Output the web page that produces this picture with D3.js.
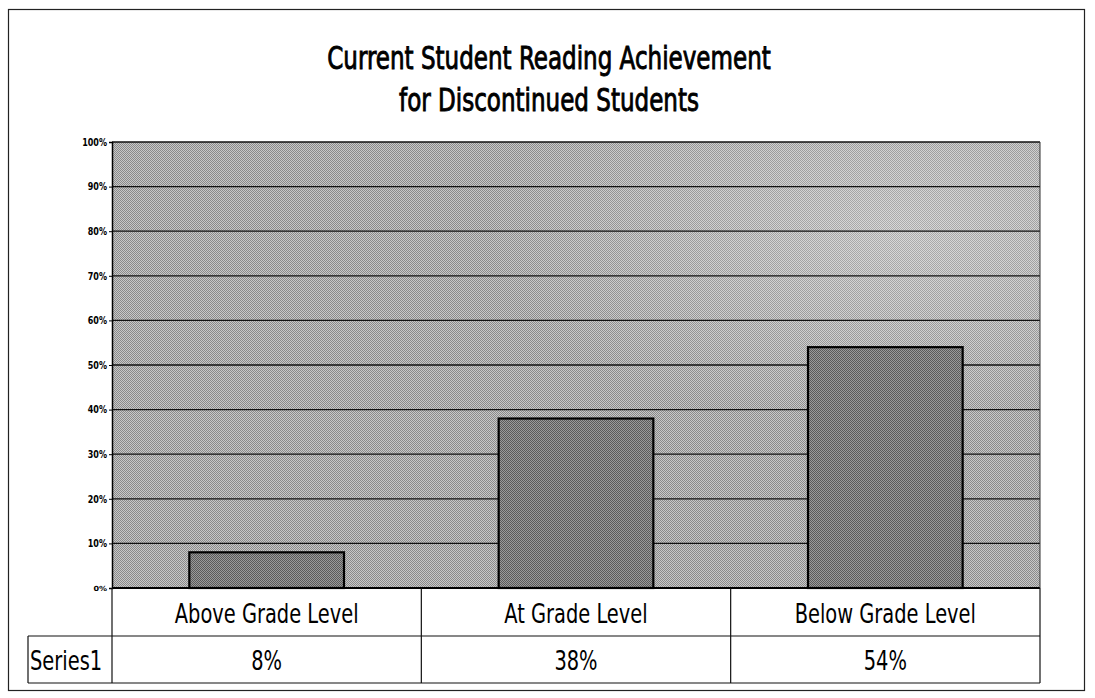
<!DOCTYPE html>
<html>
<head>
<meta charset="utf-8">
<script src="https://cdn.jsdelivr.net/npm/d3@7"></script>
<style>
  body { margin: 0; background: #fff; }
  text { fill: #000; }
</style>
</head>
<body>
<div id="chart"></div>
<script>
// chart data
var categories = ["Above Grade Level", "At Grade Level", "Below Grade Level"];
var values = [0.08, 0.38, 0.54];
var valueLabels = ["8%", "38%", "54%"];
var seriesName = "Series1";
var titleLines = ["Current Student Reading Achievement", "for Discontinued Students"];
var yTicks = [0, 0.1, 0.2, 0.3, 0.4, 0.5, 0.6, 0.7, 0.8, 0.9, 1.0];

var width = 1095, height = 698;
var plot = {left: 112, right: 1040, top: 142, bottom: 588};
var rowH = 47;
var font = "'DejaVu Sans Condensed', 'DejaVu Sans', sans-serif";

var svg = d3.select("#chart").append("svg")
    .attr("width", width)
    .attr("height", height);

// narrow the glyphs a bit, the original uses a very condensed face
function squeeze(sel, k) {
    sel.each(function() {
        var w = this.getComputedTextLength();
        d3.select(this)
            .attr("textLength", w * k)
            .attr("lengthAdjust", "spacingAndGlyphs");
    });
}

// halftone-ish textures
var defs = svg.append("defs");
function dither(id, dark, light) {
    var p = defs.append("pattern")
        .attr("id", id)
        .attr("width", 2).attr("height", 2)
        .attr("patternUnits", "userSpaceOnUse");
    p.append("rect").attr("width", 2).attr("height", 2).attr("fill", light);
    p.append("rect").attr("width", 1).attr("height", 1).attr("fill", dark);
    p.append("rect").attr("x", 1).attr("y", 1).attr("width", 1).attr("height", 1).attr("fill", dark);
}
dither("bgTex", "#8a8a8a", "#c8c8c8");
dither("barTex", "#5a5a5a", "#9a9a9a");

var glow = defs.append("radialGradient")
    .attr("id", "glow")
    .attr("cx", "0.85").attr("cy", "0.2").attr("r", "0.45");
glow.append("stop").attr("offset", "0").attr("stop-color", "#fff").attr("stop-opacity", 0.3);
glow.append("stop").attr("offset", "1").attr("stop-color", "#fff").attr("stop-opacity", 0);

// outer frame
svg.append("rect")
    .attr("x", 8.5).attr("y", 9.5)
    .attr("width", 1076).attr("height", 681)
    .attr("fill", "none")
    .attr("stroke", "#222")
    .attr("stroke-width", 1.2);

// title (regular face thickened with a thin stroke -> medium weight)
svg.append("g").selectAll("text")
    .data(titleLines)
    .enter().append("text")
        .attr("x", 549)
        .attr("y", function(d, i) { return 69 + i * 42; })
        .attr("text-anchor", "middle")
        .style("font-family", font)
        .style("font-size", "32px")
        .style("stroke", "#000")
        .style("stroke-width", "0.9px")
        .text(function(d) { return d; })
        .call(squeeze, 0.8);

var x = d3.scaleBand()
    .domain(categories)
    .range([plot.left, plot.right])
    .paddingInner(0)
    .paddingOuter(0);

var y = d3.scaleLinear()
    .domain([0, 1])
    .range([plot.bottom, plot.top]);

// plot background
svg.append("rect")
    .attr("x", plot.left).attr("y", plot.top)
    .attr("width", plot.right - plot.left).attr("height", plot.bottom - plot.top)
    .attr("fill", "url(#bgTex)");
svg.append("rect")
    .attr("x", plot.left).attr("y", plot.top)
    .attr("width", plot.right - plot.left).attr("height", plot.bottom - plot.top)
    .attr("fill", "url(#glow)");

// gridlines
svg.append("g").selectAll("line")
    .data(yTicks.slice(1))
    .enter().append("line")
        .attr("x1", plot.left).attr("x2", plot.right)
        .attr("y1", function(d) { return y(d); })
        .attr("y2", function(d) { return y(d); })
        .attr("stroke", "#111")
        .attr("stroke-width", 1.3);

// bars
var barW = x.bandwidth() * 0.5;
svg.append("g").selectAll("rect")
    .data(values)
    .enter().append("rect")
        .attr("x", function(d, i) { return x(categories[i]) + (x.bandwidth() - barW) / 2; })
        .attr("y", function(d) { return y(d); })
        .attr("width", barW)
        .attr("height", function(d) { return y(0) - y(d); })
        .attr("fill", "url(#barTex)")
        .attr("stroke", "#000")
        .attr("stroke-width", 2.2);

// y axis
var yAxis = d3.axisLeft(y)
    .tickValues(yTicks)
    .tickSize(3)
    .tickFormat(d3.format(".0%"));
var ay = svg.append("g")
    .attr("transform", "translate(" + plot.left + ",0)")
    .call(yAxis);
ay.select(".domain").attr("stroke", "#000").attr("stroke-width", 1.5);
ay.selectAll(".tick line").attr("stroke", "#000");
ay.selectAll(".tick text")
    .attr("x", -5)
    .style("font-family", font)
    .style("font-size", "10.5px")
    .style("font-weight", "bold")
    .call(squeeze, 0.85);
ay.selectAll(".tick text").filter(function(d) { return d === 0; })
    .style("font-size", "7px");

// baseline
svg.append("line")
    .attr("x1", plot.left).attr("x2", plot.right)
    .attr("y1", y(0)).attr("y2", y(0))
    .attr("stroke", "#000").attr("stroke-width", 2);
// right edge of plot
svg.append("line")
    .attr("x1", plot.right).attr("x2", plot.right)
    .attr("y1", plot.top).attr("y2", plot.bottom)
    .attr("stroke", "#333").attr("stroke-width", 1);

// data table
var table = svg.append("g").attr("fill", "none").attr("stroke", "#111").attr("stroke-width", 1.2);
var r1 = plot.bottom, r2 = plot.bottom + rowH + 1, r3 = plot.bottom + rowH * 2 + 1;
table.append("line").attr("x1", 28).attr("x2", plot.right).attr("y1", r2).attr("y2", r2);
table.append("line").attr("x1", 28).attr("x2", plot.right).attr("y1", r3).attr("y2", r3);
var vx = categories.map(function(c) { return x(c); }).concat([plot.right]);
table.selectAll("line.v")
    .data(vx)
    .enter().append("line")
        .attr("class", "v")
        .attr("x1", function(d) { return d; }).attr("x2", function(d) { return d; })
        .attr("y1", r1).attr("y2", r3);
table.append("line").attr("x1", 28).attr("x2", 28).attr("y1", r2).attr("y2", r3);

svg.append("g").selectAll("text")
    .data(categories)
    .enter().append("text")
        .attr("x", function(d) { return x(d) + x.bandwidth() / 2; })
        .attr("y", r1 + 35)
        .attr("text-anchor", "middle")
        .style("font-family", font)
        .style("font-size", "27px")
        .text(function(d) { return d; })
        .call(squeeze, 0.8);

svg.append("g").selectAll("text")
    .data(valueLabels)
    .enter().append("text")
        .attr("x", function(d, i) { return x(categories[i]) + x.bandwidth() / 2; })
        .attr("y", r2 + 34)
        .attr("text-anchor", "middle")
        .style("font-family", font)
        .style("font-size", "27px")
        .text(function(d) { return d; })
        .call(squeeze, 0.8);

svg.append("text")
    .attr("x", 30)
    .attr("y", r2 + 34)
    .style("font-family", font)
    .style("font-size", "27px")
    .text(seriesName)
    .call(squeeze, 0.8);
</script>
</body>
</html>
